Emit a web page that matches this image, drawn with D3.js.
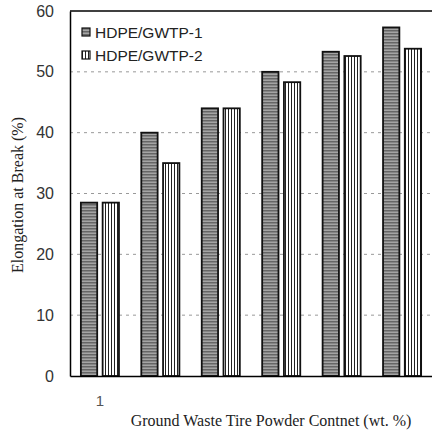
<!DOCTYPE html>
<html>
<head>
<meta charset="utf-8">
<script src="https://cdn.jsdelivr.net/npm/d3@7"></script>
<style>
  body { margin: 0; background: #fff; }
</style>
</head>
<body>
<script>
var groups = ['g1', 'g2', 'g3', 'g4', 'g5', 'g6'];
var tickLabels = ['1', '', '', '', '', ''];
var seriesNames = ['HDPE/GWTP-1', 'HDPE/GWTP-2'];
var gwtp1 = [28.5, 40, 44, 50, 53.3, 57.3];
var gwtp2 = [28.5, 35, 44, 48.3, 52.6, 53.8];
var yTicks = [0, 10, 20, 30, 40, 50, 60];

var W = 432, H = 431;
var margin = { left: 70, right: 0, top: 11, bottom: 55 };

var svg = d3.select('body')
  .append('svg')
  .attr('width', W)
  .attr('height', H);

// hatch patterns
var defs = svg.append('defs');
var p1 = defs.append('pattern')
  .attr('id', 'horiz')
  .attr('patternUnits', 'userSpaceOnUse')
  .attr('width', 4).attr('height', 3);
p1.append('rect').attr('width', 4).attr('height', 3).attr('fill', '#a4a4a4');
p1.append('rect').attr('width', 4).attr('height', 1.5).attr('fill', '#666');

var p2 = defs.append('pattern')
  .attr('id', 'vert')
  .attr('patternUnits', 'userSpaceOnUse')
  .attr('width', 3).attr('height', 4);
p2.append('rect').attr('width', 3).attr('height', 4).attr('fill', '#fff');
p2.append('rect').attr('width', 1).attr('height', 4).attr('fill', '#222');

var fills = ['url(#horiz)', 'url(#vert)'];

var x0 = d3.scaleBand()
  .domain(groups)
  .range([margin.left, W - margin.right])
  .paddingInner(0.37)
  .paddingOuter(0.18);

var x1 = d3.scaleBand()
  .domain([0, 1])
  .range([0, x0.bandwidth()])
  .paddingInner(0.25)
  .paddingOuter(0);

var y = d3.scaleLinear()
  .domain([0, 60])
  .range([H - margin.bottom, margin.top]);

// dashed gridlines
svg.append('g')
  .selectAll('line')
  .data(yTicks.slice(1, 6))
  .enter().append('line')
  .attr('x1', margin.left)
  .attr('x2', W)
  .attr('y1', function(d) { return y(d); })
  .attr('y2', function(d) { return y(d); })
  .attr('stroke', '#999')
  .attr('stroke-width', 1)
  .attr('stroke-dasharray', '3,4');

// bars
var series = [gwtp1, gwtp2];
series.forEach(function(vals, s) {
  svg.append('g')
    .selectAll('rect')
    .data(vals)
    .enter().append('rect')
    .attr('x', function(d, i) { return x0(groups[i]) + x1(s); })
    .attr('y', function(d) { return y(d); })
    .attr('width', x1.bandwidth())
    .attr('height', function(d) { return y(0) - y(d); })
    .attr('fill', fills[s])
    .attr('stroke', '#111')
    .attr('stroke-width', 1.8);
});

// y axis
var yAxis = svg.append('g')
  .attr('transform', 'translate(' + margin.left + ',0)')
  .call(d3.axisLeft(y).tickValues(yTicks).tickSize(0).tickPadding(16));
yAxis.select('.domain').attr('stroke', '#000').attr('stroke-width', 1.5);
yAxis.selectAll('text')
  .attr('font-family', 'Liberation Sans, Arial, sans-serif')
  .attr('font-size', 16)
  .attr('fill', '#333');

// x axis
var xAxis = svg.append('g')
  .attr('transform', 'translate(0,' + y(0) + ')')
  .call(d3.axisBottom(x0).tickSize(0).tickPadding(19)
    .tickFormat(function(d, i) { return tickLabels[i]; }));
xAxis.select('.domain').attr('stroke', '#000').attr('stroke-width', 1.5);
xAxis.selectAll('text')
  .attr('font-family', 'Liberation Sans, Arial, sans-serif')
  .attr('font-size', 15)
  .attr('fill', '#555');

// top frame
svg.append('line')
  .attr('x1', margin.left).attr('x2', W)
  .attr('y1', margin.top).attr('y2', margin.top)
  .attr('stroke', '#000').attr('stroke-width', 1.5);

// legend
var legend = svg.append('g')
  .selectAll('g')
  .data(seriesNames)
  .enter().append('g')
  .attr('transform', function(d, i) { return 'translate(82,' + (28 + i * 23) + ')'; });
legend.append('rect')
  .attr('width', 8).attr('height', 8)
  .attr('fill', function(d, i) { return fills[i]; })
  .attr('stroke', '#111').attr('stroke-width', 1.2);
legend.append('text')
  .attr('x', 13).attr('y', 9.5)
  .attr('font-family', 'Liberation Sans, Arial, sans-serif')
  .attr('font-size', 15.5)
  .attr('fill', '#222')
  .text(function(d) { return d; });

// axis titles
svg.append('text')
  .attr('x', 271).attr('y', 426)
  .attr('text-anchor', 'middle')
  .attr('font-family', 'Liberation Serif, Times New Roman, serif')
  .attr('font-size', 16)
  .attr('fill', '#222')
  .text('Ground Waste Tire Powder Contnet (wt. %)');

svg.append('text')
  .attr('transform', 'translate(23,195) rotate(-90)')
  .attr('text-anchor', 'middle')
  .attr('font-family', 'Liberation Serif, Times New Roman, serif')
  .attr('font-size', 16)
  .attr('fill', '#222')
  .text('Elongation at Break (%)');
</script>
</body>
</html>
